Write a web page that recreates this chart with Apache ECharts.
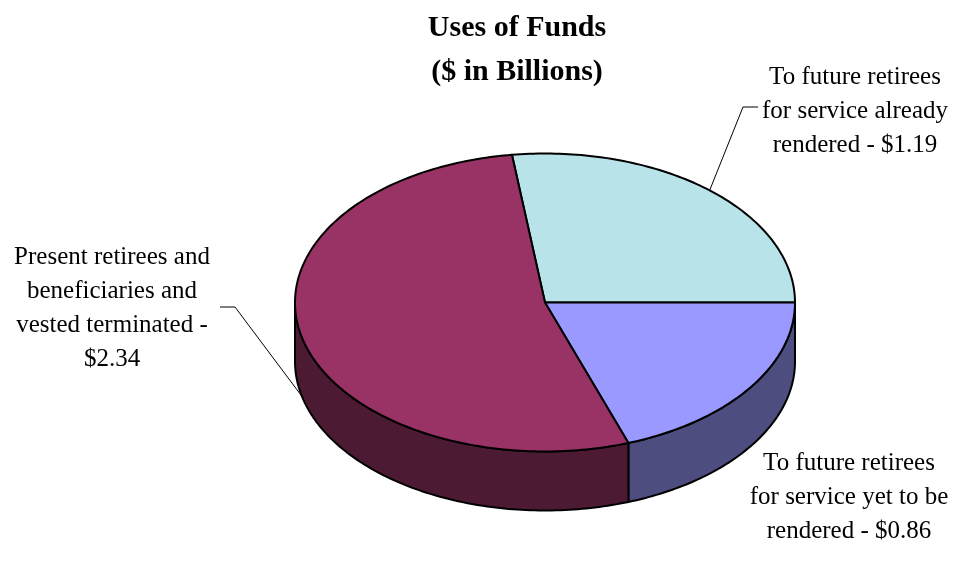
<!DOCTYPE html>
<html><head><meta charset="utf-8">
<script src="https://cdn.jsdelivr.net/npm/echarts@6/dist/echarts.min.js"></script>
<style>html,body{margin:0;padding:0;background:#fff}#main{width:954px;height:564px}</style>
</head><body><div id="main"></div>
<script>
// ---- data ----
const categories = [
  'To future retirees for service already rendered',
  'To future retirees for service yet to be rendered',
  'Present retirees and beneficiaries and vested terminated'
];
const values = [1.19, 0.86, 2.34];
const labelTexts = [
  'To future retirees\nfor service already\nrendered - $1.19',
  'To future retirees\nfor service yet to be\nrendered - $0.86',
  'Present retirees and\nbeneficiaries and\nvested terminated -\n$2.34'
];
const titleText = 'Uses of Funds\n($ in Billions)';

// ---- styles / layout ----
const topColors = ['#B8E3E8', '#9999FF', '#993366'];
const sideColors = ['#5C7174', '#4D4D80', '#4D1A33'];
const PIE = { cx: 545, cy: 302.5, rx: 250, ry: 149, depth: 59, startDeg: 97.6 };
const FONT = '"Liberation Serif", "Times New Roman", serif';
const LABELS = [
  { x: 855, y: 111, leader: [[743, 107], [758, 107]], anchorDy: 0 },
  { x: 849, y: 497, leader: null, anchorDy: 0 },
  { x: 112, y: 308, leader: [[235, 307], [220, 307]], anchorDy: 1 }
];

const total = values.reduce((a, b) => a + b, 0);
const rad = d => d * Math.PI / 180;
const pt = (deg, dy) => [PIE.cx + PIE.rx * Math.cos(rad(deg)), PIE.cy - PIE.ry * Math.sin(rad(deg)) + dy];
function arc(from, to, dy) {
  const n = Math.max(2, Math.ceil(Math.abs(to - from)));
  const pts = [];
  for (let s = 0; s <= n; s++) pts.push(pt(from + (to - from) * s / n, dy));
  return pts;
}

function renderItem(params, api) {
  const i = params.dataIndex;
  let before = 0;
  for (let k = 0; k < i; k++) before += values[k];
  const v = api.value(0);
  const a1 = PIE.startDeg - 360 * before / total;
  const a2 = a1 - 360 * v / total;
  const children = [];
  // visible front side wall
  for (let k = -2; k <= 1; k++) {
    const s = Math.max(a2, -180 + 360 * k), e = Math.min(a1, 360 * k);
    if (e - s > 0.01) {
      const pts = arc(s, e, 0).concat(arc(e, s, PIE.depth));
      children.push({
        type: 'polygon', z2: 1,
        shape: { points: pts },
        style: { fill: sideColors[i], stroke: '#000', lineWidth: 2, lineJoin: 'round' }
      });
    }
  }
  // top face
  children.push({
    type: 'polygon', z2: 10,
    shape: { points: [[PIE.cx, PIE.cy]].concat(arc(a1, a2, 0)) },
    style: { fill: topColors[i], stroke: '#000', lineWidth: 2, lineJoin: 'round' }
  });
  // label
  const L = LABELS[i];
  if (L.leader) {
    const mid = (a1 + a2) / 2;
    const anchor = pt(mid, L.anchorDy ? PIE.depth : 0);
    children.push({
      type: 'polyline', z2: 20,
      shape: { points: [anchor].concat(L.leader) },
      style: { stroke: '#000', lineWidth: 1, fill: null }
    });
  }
  children.push({
    type: 'text', z2: 20, x: L.x, y: L.y,
    style: {
      text: labelTexts[i], fill: '#000', fontSize: 25, fontFamily: FONT,
      align: 'center', verticalAlign: 'middle', lineHeight: 34
    }
  });
  return { type: 'group', children };
}

const chart = echarts.init(document.getElementById('main'));
chart.setOption({
  backgroundColor: '#fff',
  animation: false,
  title: {
    text: titleText, left: 517, top: 6, textAlign: 'center', padding: 0,
    textStyle: { fontFamily: FONT, fontSize: 30, fontWeight: 'bold', color: '#000', lineHeight: 44 }
  },
  series: [{
    type: 'custom',
    coordinateSystem: 'none',
    renderItem: renderItem,
    data: values.map((v, i) => ({ name: categories[i], value: [v] }))
  }]
});
</script>
</body></html>
